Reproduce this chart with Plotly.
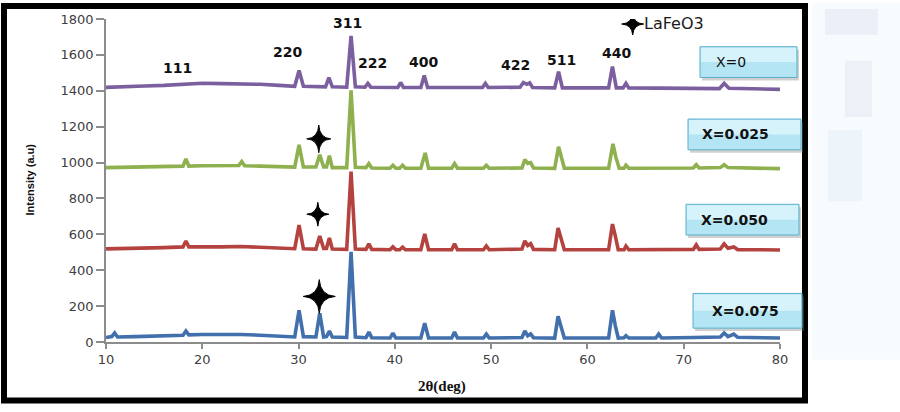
import plotly.graph_objects as go

# ---------------- data ----------------
tt_x0 = [10, 12, 14, 16, 18, 20, 22, 24, 26, 28, 29.6, 30.05, 30.5, 32.8, 33.15, 33.5,
         35.0, 35.45, 35.9, 36.9, 37.2, 37.5, 40.3, 40.6, 40.9, 42.7, 43.05, 43.4,
         49.1, 49.4, 49.7, 53.0, 53.35, 53.7, 54.0, 54.3, 56.6, 57.0, 57.4,
         62.2, 62.6, 63.0, 63.7, 64.0, 64.3, 73.7, 74.2, 74.7, 80]
I_x0 = [1419, 1425, 1427, 1430, 1438, 1442, 1440, 1440, 1436, 1430, 1425, 1513, 1425, 1422, 1474, 1422,
        1420, 1706, 1422, 1420, 1441, 1420, 1418, 1446, 1418, 1418, 1485, 1418,
        1418, 1441, 1418, 1420, 1446, 1436, 1444, 1418, 1416, 1507, 1416,
        1416, 1535, 1416, 1416, 1441, 1416, 1412, 1441, 1414, 1408]

tt_x025 = [10, 12, 14, 16, 18.0, 18.3, 18.6, 20, 22, 23.8, 24.1, 24.4, 26, 28, 29.6, 30.05, 30.5,
           31.8, 32.2, 32.6, 32.9, 33.2, 33.5, 35.0, 35.45, 35.9, 37.0, 37.3, 37.6,
           39.5, 39.8, 40.1, 40.5, 40.8, 41.1, 42.7, 43.15, 43.5, 45.9, 46.2, 46.5,
           49.2, 49.5, 49.8, 53.2, 53.5, 53.8, 54.1, 54.4, 56.6, 57.0, 57.3, 57.6,
           62.2, 62.65, 62.95, 63.3, 63.8, 64.0, 64.3, 71.0, 71.3, 71.6, 73.8, 74.2, 74.6, 80]
I_x025 = [972, 974, 975, 978, 980, 1021, 980, 982, 982, 984, 1005, 982, 980, 978, 975, 1099, 975,
          975, 1043, 976, 976, 1038, 972, 972, 1402, 974, 972, 994, 970,
          968, 985, 968, 968, 985, 968, 968, 1054, 968, 968, 994, 968,
          968, 985, 968, 970, 1016, 995, 1000, 970, 968, 1088, 1030, 968,
          968, 1104, 1030, 968, 968, 985, 968, 970, 988, 970, 972, 988, 972, 966]

tt_x050 = [10, 12, 14, 16, 18.0, 18.3, 18.6, 20, 22, 24, 26, 28, 29.6, 30.05, 30.5,
           31.8, 32.2, 32.6, 32.9, 33.2, 33.5, 35.0, 35.45, 35.9, 37.0, 37.3, 37.6,
           39.5, 39.8, 40.1, 40.5, 40.8, 41.1, 42.7, 43.1, 43.5, 45.9, 46.2, 46.5,
           49.2, 49.5, 49.8, 53.2, 53.5, 53.8, 54.1, 54.4, 56.6, 56.95, 57.25, 57.6,
           62.2, 62.6, 62.9, 63.2, 63.8, 64.0, 64.3, 71.0, 71.3, 71.6, 73.8, 74.2, 74.6, 75.2, 75.6, 80]
I_x050 = [519, 520, 522, 526, 530, 563, 530, 532, 530, 532, 528, 524, 520, 651, 520,
          518, 591, 522, 522, 580, 518, 516, 950, 518, 516, 547, 516,
          514, 530, 514, 514, 528, 514, 514, 602, 514, 514, 547, 514,
          514, 535, 514, 518, 563, 538, 548, 516, 514, 635, 580, 514,
          514, 657, 590, 514, 514, 535, 514, 516, 541, 516, 518, 547, 522, 530, 515, 513]

tt_x075 = [10, 10.6, 10.9, 11.2, 13, 15, 17, 18.0, 18.3, 18.6, 20, 22, 24, 26, 28, 29.6, 30.05, 30.5,
           31.8, 32.2, 32.6, 32.9, 33.2, 33.5, 35.0, 35.45, 35.9, 37.0, 37.3, 37.6,
           39.5, 39.8, 40.1, 42.7, 43.1, 43.5, 45.9, 46.2, 46.5, 49.2, 49.5, 49.8,
           53.2, 53.5, 53.8, 54.1, 54.4, 56.6, 56.95, 57.25, 57.6, 62.2, 62.6, 62.9, 63.2,
           63.8, 64.0, 64.3, 67.1, 67.4, 67.7, 71, 73.8, 74.2, 74.6, 75.2, 75.6, 80]
I_x075 = [25, 30, 50, 28, 30, 32, 36, 38, 61, 40, 42, 44, 42, 38, 32, 28, 177, 30,
          28, 160, 28, 30, 61, 28, 25, 502, 28, 24, 55, 24,
          22, 50, 22, 22, 105, 22, 22, 55, 22, 22, 44, 22,
          25, 61, 35, 45, 24, 22, 144, 80, 22, 22, 177, 90, 22,
          24, 35, 22, 22, 44, 22, 25, 28, 50, 30, 44, 26, 22]

series_names = ["X=0", "X=0.025", "X=0.050", "X=0.075"]
series_colors = ["#7C5F9E", "#8FB04F", "#B4433F", "#4170AD"]

hkl_labels = ["111", "220", "311", "222", "400", "422", "511", "440"]

# ---------------- geometry helpers (layout only) ----------------
W, H = 900, 412
L_PX, R_PX, T_PX, B_PX = 106, 780, 16, 342
X_MIN, X_MAX, Y_MIN, Y_MAX = 10, 80, 0, 1800


def px(xp):
    return (xp - L_PX) / (R_PX - L_PX)


def py(yp):
    return (B_PX - yp) / (B_PX - T_PX)


fig = go.Figure()
tt_all = [tt_x0, tt_x025, tt_x050, tt_x075]
I_all = [I_x0, I_x025, I_x050, I_x075]
for name, col, xs, ys in zip(series_names, series_colors, tt_all, I_all):
    fig.add_trace(go.Scatter(x=xs, y=ys, mode="lines", name=name,
                             line=dict(color=col, width=3.6), showlegend=False,
                             hoverinfo="skip"))

shapes = []
annotations = []

# outer black frame
shapes.append(dict(type="rect", xref="paper", yref="paper",
                   x0=px(4), x1=px(805), y0=py(401), y1=py(3),
                   line=dict(color="black", width=6), layer="above"))

# faint watermark on the right
for (x0, y0, x1, y1, c) in [(812, 0, 900, 360, "rgba(225,240,248,0.25)"),
                            (825, 6, 878, 32, "rgba(200,190,230,0.22)"),
                            (845, 58, 872, 115, "rgba(205,200,232,0.20)"),
                            (828, 128, 862, 200, "rgba(210,228,242,0.25)")]:
    shapes.append(dict(type="rect", xref="paper", yref="paper",
                       x0=px(x0), x1=px(x1), y0=py(y1), y1=py(y0),
                       fillcolor=c, line=dict(width=0), layer="below"))

# label boxes
boxes = [(700, 44, 797, 75, "X=0", False, 714),
         (688, 117, 801, 148, "X=0.025", True, 700),
         (686, 203, 799, 234, "X=0.050", True, 699),
         (693, 293, 802, 328, "X=0.075", True, 710)]
for (x0, y0, x1, y1, txt, bold, tx) in boxes:
    shapes.append(dict(type="rect", xref="paper", yref="paper",
                       x0=px(x0 + 2), x1=px(x1 + 2), y0=py(y1 + 3), y1=py(y0 + 3),
                       fillcolor="rgba(120,120,120,0.35)", line=dict(width=0), layer="above"))
    shapes.append(dict(type="rect", xref="paper", yref="paper",
                       x0=px(x0), x1=px(x1), y0=py(y1), y1=py(y0),
                       fillcolor="#B3E5F5", line=dict(color="#5AAFCB", width=1), layer="above"))
    shapes.append(dict(type="rect", xref="paper", yref="paper",
                       x0=px(x0 + 1), x1=px(x1 - 1), y0=py((y0 + y1) / 2), y1=py(y0 + 1),
                       fillcolor="#D6F2FB", line=dict(width=0), layer="above"))
    annotations.append(dict(xref="paper", yref="paper", x=px(tx), y=py((y0 + y1) / 2),
                            xanchor="left", yanchor="middle", showarrow=False,
                            text=("<b>%s</b>" % txt) if bold else txt,
                            font=dict(family="DejaVu Sans", size=14, color="#111111")))


# four-pointed stars (data coordinates for position, pixel sizes for shape)
def star(cx, cy, hw, hh):
    dx = hw * (X_MAX - X_MIN) / (R_PX - L_PX)
    dy = hh * (Y_MAX - Y_MIN) / (B_PX - T_PX)
    k = 0.06
    return ("M {l},{cy} Q {a},{b} {cx},{t} Q {c},{b} {r},{cy} Q {c},{d} {cx},{bt} "
            "Q {a},{d} {l},{cy} Z").format(
        l=cx - dx, r=cx + dx, t=cy + dy, bt=cy - dy, cx=cx, cy=cy,
        a=cx - dx * k, c=cx + dx * k, b=cy + dy * k, d=cy - dy * k)


for (cx, cy, hw, hh) in [(64.7, 1772, 11, 11), (32.1, 1132, 12, 14),
                         (32.0, 712, 11, 12), (32.15, 254, 16, 17)]:
    shapes.append(dict(type="path", xref="x", yref="y", path=star(cx, cy, hw, hh),
                       fillcolor="black", line=dict(color="black", width=1), layer="above"))

annotations.append(dict(xref="paper", yref="paper", x=px(642), y=py(21),
                        xanchor="left", yanchor="middle", showarrow=False,
                        text="LaFeO3", font=dict(family="DejaVu Sans", size=16, color="#1a1a1a")))

# hkl peak labels
hkl_pos = [(177, 65), (287, 49), (347, 20), (372, 60), (423, 59), (515, 62), (561, 57), (616, 50)]
for lab, (xp, yp) in zip(hkl_labels, hkl_pos):
    annotations.append(dict(xref="paper", yref="paper", x=px(xp), y=py(yp),
                            xanchor="center", yanchor="middle", showarrow=False,
                            text="<b>%s</b>" % lab,
                            font=dict(family="DejaVu Sans", size=14, color="#111111")))

# axis titles
annotations.append(dict(xref="paper", yref="paper", x=px(442), y=py(387),
                        xanchor="center", yanchor="middle", showarrow=False,
                        text="<b>2θ(deg)</b>",
                        font=dict(family="Liberation Serif", size=15, color="#111111")))
annotations.append(dict(xref="paper", yref="paper", x=px(30), y=py(178),
                        xanchor="center", yanchor="middle", showarrow=False, textangle=-90,
                        text="<b>Intensity (a.u)</b>",
                        font=dict(family="Liberation Sans", size=11, color="#111111")))

fig.update_layout(
    width=W, height=H,
    margin=dict(l=L_PX, r=W - R_PX, t=T_PX, b=H - B_PX, pad=0),
    paper_bgcolor="white", plot_bgcolor="white",
    shapes=shapes, annotations=annotations,
    xaxis=dict(range=[X_MIN, X_MAX], dtick=10, tick0=10, showgrid=False, zeroline=False,
               showline=True, linecolor="#8C8C8C", linewidth=1.5,
               ticks="outside", ticklen=5, tickcolor="#8C8C8C", tickwidth=1.5,
               tickfont=dict(family="DejaVu Sans", size=13, color="#404040")),
    yaxis=dict(range=[Y_MIN, Y_MAX], dtick=200, tick0=0, showgrid=False, zeroline=False,
               showline=True, linecolor="#8C8C8C", linewidth=1.5,
               ticks="outside", ticklen=8, tickcolor="#8C8C8C", tickwidth=1.5,
               tickfont=dict(family="DejaVu Sans", size=13, color="#404040")),
)

fig.write_html("out.html")
